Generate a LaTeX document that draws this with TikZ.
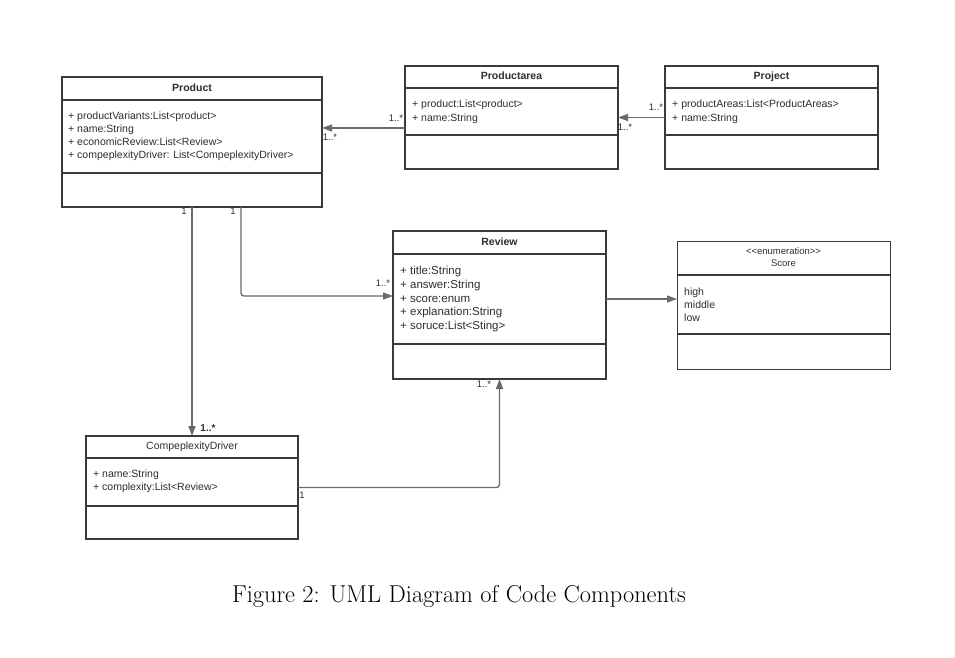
\documentclass[tikz,border=0pt]{standalone}
\usepackage{fontspec}
\newfontfamily\uisans{Liberation Sans}
\usetikzlibrary{arrows.meta}
\definecolor{boxline}{HTML}{3A3A3A}
\definecolor{conn}{HTML}{6A6A6A}
\definecolor{txt}{HTML}{2E2E2E}
\begin{document}
\begin{tikzpicture}[x=1pt,y=-1pt,
  cls/.style={draw=boxline,line width=1.3pt,anchor=north west,inner sep=0pt,outer sep=0pt},
  divider/.style={draw=boxline,line width=1.1pt},
  ttl/.style={font=\uisans\fontsize{10.5}{12}\selectfont\bfseries,text=txt,inner sep=0pt,text height=7.5pt,text depth=0pt},
  subttl/.style={font=\uisans\fontsize{9.5}{12}\selectfont,text=txt,inner sep=0pt,text height=6.8pt,text depth=0pt},
  attr/.style={font=\uisans\fontsize{10.5}{13}\selectfont,text=txt,anchor=north west,inner sep=0pt,align=left},
  mult/.style={font=\uisans\fontsize{9.5}{10}\selectfont,text=txt,inner sep=0pt,text height=6.8pt,text depth=0pt},
  assoc/.style={draw=conn,line width=1.3pt,-{Triangle[length=10pt,width=7pt]},rounded corners=3pt}]
\useasboundingbox (0,0) rectangle (955,657);
\fill[white] (0,0) rectangle (955,657);

% ---------- class boxes ----------
\node[cls,minimum width=260pt,minimum height=130pt] (product) at (62,77) {};
\node[cls,minimum width=213pt,minimum height=103pt] (productarea) at (405,66) {};
\node[cls,minimum width=213pt,minimum height=103pt] (project) at (665,66) {};
\node[cls,minimum width=213pt,minimum height=148pt] (review) at (393,231) {};
\node[cls,minimum width=213pt,minimum height=128pt,line width=1pt] (score) at (677,241) {};
\node[cls,minimum width=212pt,minimum height=103pt] (cd) at (86,436) {};

% ---------- dividers ----------
\foreach \b/\a/\c in {product/23/96, productarea/22/69, project/22/69, review/23/113, score/34/93, cd/22/70}{
  \draw[divider] ([yshift=-\a pt]\b.north west) -- ([yshift=-\a pt]\b.north east);
  \draw[divider] ([yshift=-\c pt]\b.north west) -- ([yshift=-\c pt]\b.north east);
}

% ---------- titles ----------
\node[ttl] (productT) at (192,88) {Product};
\node[ttl] (productareaT) at (511.5,75.5) {Productarea};
\node[ttl] (projectT) at (771.5,75.5) {Project};
\node[ttl] (reviewT) at (499.5,241.5) {Review};
\node[ttl,font=\uisans\fontsize{10.5}{12}\selectfont] (cdT) at (192,446) {CompeplexityDriver};
\node[subttl] (scoreS) at (783.5,251) {<{}<enumeration>{}>};
\node[subttl] (scoreT) at (783.5,263) {Score};

% ---------- attributes ----------
\node[attr] (productA) at (68,111.3) {+ productVariants:List<product>\\+ name:String\\+ economicReview:List<Review>\\+ compeplexityDriver: List<CompeplexityDriver>};
\node[attr,font=\uisans\fontsize{10.5}{13.5}\selectfont] (productareaA) at (412,99.7) {+ product:List<product>\\+ name:String};
\node[attr,font=\uisans\fontsize{10.5}{13.5}\selectfont] (projectA) at (672,99.7) {+ productAreas:List<ProductAreas>\\+ name:String};
\node[attr,font=\uisans\fontsize{11.5}{13.8}\selectfont] (reviewA) at (400,265.9) {+ title:String\\+ answer:String\\+ score:enum\\+ explanation:String\\+ soruce:List<Sting>};
\node[attr] (scoreA) at (684,287.3) {high\\middle\\low};
\node[attr] (cdA) at (93,469.3) {+ name:String\\+ complexity:List<Review>};

% ---------- connectors ----------
\draw[assoc] ([yshift=-10.5pt]productarea.west) -- ([yshift=-10.5pt]productarea.west -| product.east);
\draw[assoc] (project.west) -- (productarea.east);
\draw[assoc] (product.south) -- (cd.north);
\draw[assoc] ([xshift=49pt]product.south) |- ([yshift=9pt]review.west);
\draw[assoc] ([yshift=6pt]review.east) -- ([yshift=6pt]score.west);
\draw[assoc] (cd.east) -| (review.south);

% ---------- multiplicities ----------
\node[mult] (m1) at (396,118.5) {1..*};
\node[mult] (m2) at (330,137.5) {1..*};
\node[mult] (m3) at (656,107.5) {1..*};
\node[mult] (m4) at (625,127.5) {1..*};
\node[mult] (m5) at (184,211.5) {1};
\node[mult] (m6) at (233,211.5) {1};
\node[mult] (m7) at (383,283.5) {1..*};
\node[mult,font=\uisans\fontsize{10}{10}\selectfont\bfseries] (m8) at (208,428) {1..*};
\node[mult] (m9) at (302,495.5) {1};
\node[mult] (m10) at (484,384) {1..*};

% ---------- caption ----------
\node[anchor=base,inner sep=0pt,font=\fontsize{24.4}{28}\selectfont] (caption) at (459,602) {Figure 2: UML Diagram of Code Components};
\end{tikzpicture}
\end{document}
